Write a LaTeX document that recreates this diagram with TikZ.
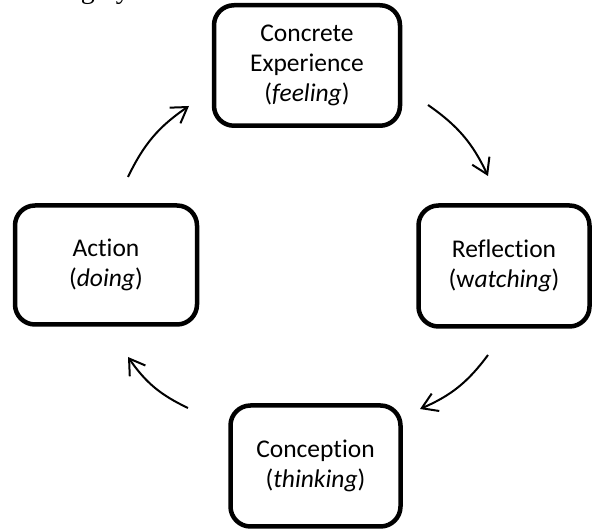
\documentclass[tikz,border=0pt]{standalone}
\usepackage{fontspec}
\setmainfont{Carlito}[Ligatures=NoCommon]
\newfontfamily\bodyserif{Liberation Serif}
\usetikzlibrary{arrows.meta}
\begin{document}
\begin{tikzpicture}[x=1pt,y=1pt,
  stage/.style={draw=black, line width=4.5pt, rounded corners=20pt,
    align=center, inner sep=0pt,
    font=\fontsize{25.5}{30}\selectfont},
  flow/.style={line width=2pt, -{Straight Barb[length=15pt,width=19pt,line width=2pt]}}]
  \useasboundingbox (0,0) rectangle (592,529);
  \begin{scope}
    \clip (0,0) rectangle (592,529);
    % tail of the running text above the figure
    \node[anchor=base east, inner sep=0pt, font=\bodyserif\fontsize{28}{30}\selectfont]
      (runon) at (130,530.5) {g by};
    % the four stages of the cycle
    \node[stage, minimum width=186pt, minimum height=120.5pt] (ce) at (307,463.5)
      {Concrete\\Experience\\(\textit{feeling})};
    \node[stage, minimum width=171pt, minimum height=121pt] (rf) at (504,263)
      {Reflection\\(w\textit{atching})};
    \node[stage, minimum width=170pt, minimum height=121pt] (cn) at (315.5,63)
      {Conception\\(\textit{thinking})};
    \node[stage, minimum width=182pt, minimum height=119pt] (ac) at (106,264)
      {Action\\(\textit{doing})};
  \end{scope}
  % arrow end points between the stages
  \coordinate (a1) at (428,424);
  \coordinate (a2) at (488,353);
  \coordinate (b1) at (488,174);
  \coordinate (b2) at (420,120);
  \coordinate (c1) at (188,121);
  \coordinate (c2) at (128,172);
  \coordinate (d1) at (128,352);
  \coordinate (d2) at (189,423);
  \draw[flow] (a1) to[bend left=15] (a2);
  \draw[flow] (b1) to[bend left=15] (b2);
  \draw[flow] (c1) to[bend left=15] (c2);
  \draw[flow] (d1) to[bend left=15] (d2);
\end{tikzpicture}
\end{document}
